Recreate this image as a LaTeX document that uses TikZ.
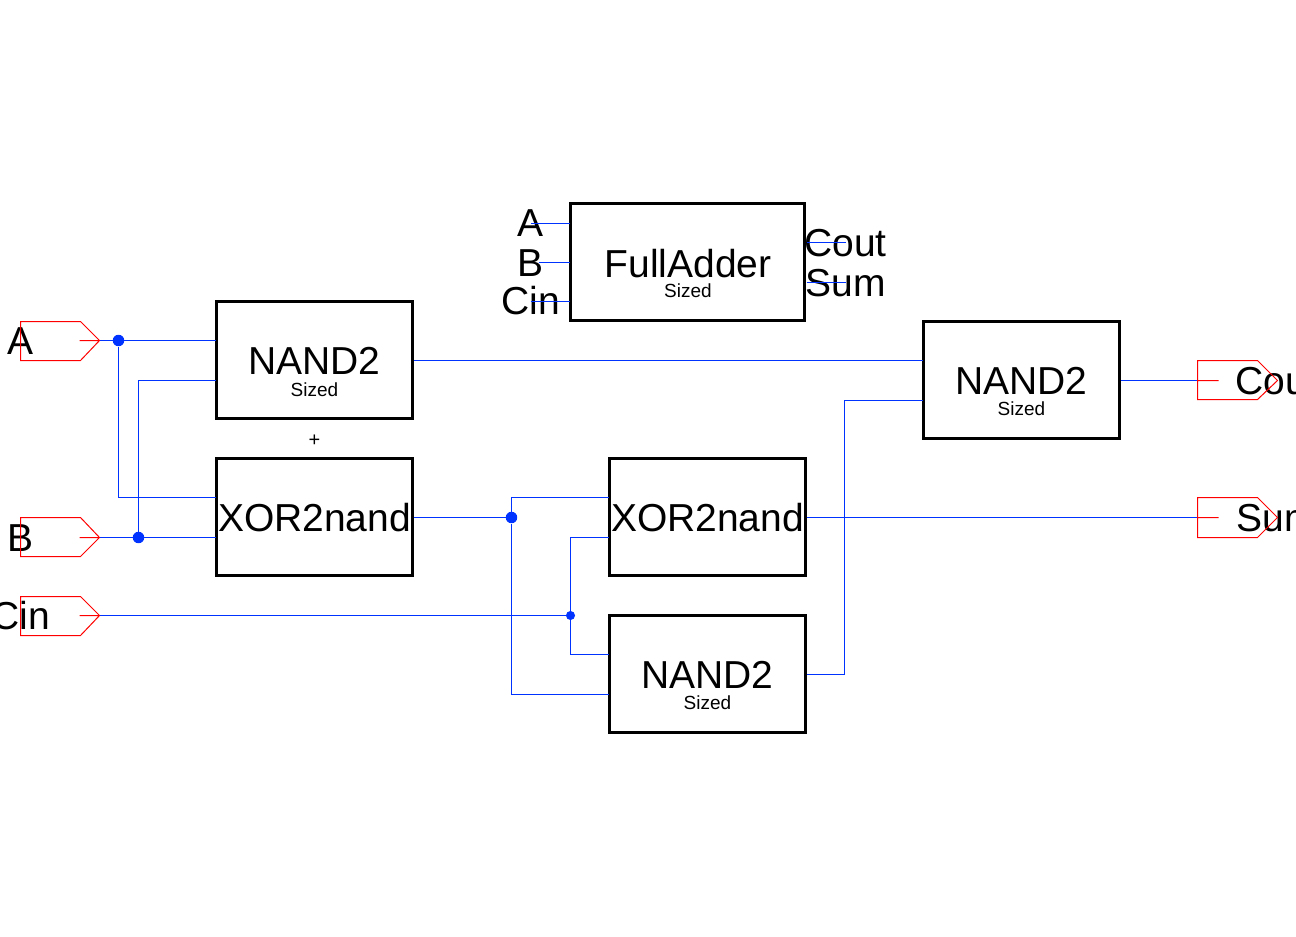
\documentclass[tikz,border=0pt]{standalone}
\usepackage{fontspec}
\setmainfont{Liberation Sans}
\definecolor{wireblue}{HTML}{0033FF}
\definecolor{portred}{HTML}{FF0000}
\tikzset{
 x=0.75pt,y=-0.75pt,
 box/.style={draw=black,line width=2.25pt,fill=white,inner sep=0pt,line join=miter},
 big/.style={font=\fontsize{29.25}{30}\selectfont,inner sep=0pt,anchor=base,text=black},
 small/.style={font=\fontsize{14.25}{15}\selectfont,inner sep=0pt,anchor=base,text=black},
 wire/.style={draw=wireblue,line width=0.75pt},
 port/.style={draw=portred,line width=0.75pt},
 dot/.style={circle,fill=wireblue,draw=none,inner sep=0pt,minimum size=#1},
 dot/.default=8.6pt
}
\begin{document}
\begin{tikzpicture}
\clip (-0.5,-0.5) rectangle (1295.5,935.5);
% blocks
\node[box,minimum width=147pt,minimum height=87.75pt] (nandA) at (314,359.5) {};
\node[box,minimum width=147pt,minimum height=87.75pt] (xorA) at (314,516.5) {};
\node[box,minimum width=147pt,minimum height=87.75pt] (xorB) at (707,516.5) {};
\node[box,minimum width=147pt,minimum height=87.75pt] (nandB) at (707,673.5) {};
\node[box,minimum width=147pt,minimum height=87.75pt] (nandC) at (1021,379.5) {};
\node[box,minimum width=175.5pt,minimum height=87.75pt] (fa) at (687,261.5) {};
% block texts
\node[big] (t1) at (314,374) {NAND2};
\node[small] (s1) at (314,396) {Sized};
\node[big] (t2) at (314,531) {XOR2nand};
\node[big] (t3) at (707,531) {XOR2nand};
\node[big] (t4) at (707,688) {NAND2};
\node[small] (s4) at (707,709) {Sized};
\node[big] (t5) at (1021,394) {NAND2};
\node[small] (s5) at (1021,415) {Sized};
\node[big] (t6) at (687.5,276.5) {FullAdder};
\node[small] (s6) at (687.5,297) {Sized};
% symbol pin labels
\node[big] (la) at (530,236) {A};
\node[big] (lb) at (530,275.5) {B};
\node[big] (lc) at (530,314) {Cin};
\node[big] (lo) at (845,256) {Cout};
\node[big] (ls) at (845,296) {Sum};
% port labels
\node[big] (pa) at (20,354) {A};
\node[big] (pb) at (20,551) {B};
\node[big] (pc) at (20,629) {Cin};
\node[big,anchor=base west] (po) at (1235,394) {Cout};
\node[big,anchor=base west] (ps) at (1236,531) {Sum};
\node[font=\fontsize{15}{15}\selectfont,inner sep=0pt] (cross) at (314,440) {+};
% coordinates
\coordinate (tipA) at (99,340);
\coordinate (tipB) at (99,537);
\coordinate (tipC) at (99,615);
\coordinate (inO) at (1197,380);
\coordinate (inS) at (1197,517);
\coordinate (nA1) at (215,340);
\coordinate (nA2) at (215,380);
\coordinate (xA1) at (215,497);
\coordinate (xA2) at (215,537);
\coordinate (xB1) at (608,497);
\coordinate (xB2) at (608,537);
\coordinate (nB1) at (608,654);
\coordinate (nB2) at (608,694);
\coordinate (nC1) at (922,360);
\coordinate (nC2) at (922,400);
\coordinate (oA) at (413,360);
\coordinate (oX) at (413,517);
\coordinate (oY) at (806,517);
\coordinate (oB) at (806,674);
\coordinate (oC) at (1120,380);
\node[dot] (j1) at (118,340) {};
\node[dot] (j2) at (138,537) {};
\node[dot] (j3) at (511,517) {};
\node[dot=6.8pt] (j4) at (570,615) {};
% wires
\draw[wire] (tipA) -- (nA1);
\draw[wire] (j1) |- (xA1);
\draw[wire] (tipB) -- (xA2);
\draw[wire] (j2) |- (nA2);
\draw[wire] (tipC) -- (j4);
\draw[wire] (oX) -- (j3);
\draw[wire] (xB1) -| (j3);
\draw[wire] (j3) |- (nB2);
\draw[wire] (xB2) -| (j4);
\draw[wire] (j4) |- (nB1);
\draw[wire] (oA) -- (nC1);
\draw[wire] (oB) -- (844,674) |- (nC2);
\draw[wire] (oY) -- (inS);
\draw[wire] (oC) -- (inO);
% symbol stubs
\coordinate (fa1) at (569,223);
\coordinate (fa2) at (569,262);
\coordinate (fa3) at (569,301);
\coordinate (fa4) at (806,242);
\coordinate (fa5) at (806,282);
\draw[wire] (530,223) -- (fa1);
\draw[wire] (538,262) -- (fa2);
\draw[wire] (530,301) -- (fa3);
\draw[wire] (fa4) -- (845,242);
\draw[wire] (fa5) -- (845,282);
% ports
\draw[port] (20,321) -- (80,321) -- (tipA) -- (80,360) -- (20,360) -- cycle (79,340) -- (tipA);
\draw[port] (20,517) -- (80,517) -- (tipB) -- (80,556) -- (20,556) -- cycle (79,537) -- (tipB);
\draw[port] (20,596) -- (80,596) -- (tipC) -- (80,635) -- (20,635) -- cycle (79,615) -- (tipC);
\draw[port] (1197,360) -- (1257,360) -- (1277,380) -- (1257,399) -- (1197,399) -- cycle (inO) -- (1218,380);
\draw[port] (1197,497) -- (1257,497) -- (1277,517) -- (1257,537) -- (1197,537) -- cycle (inS) -- (1218,517);
\end{tikzpicture}
\end{document}
